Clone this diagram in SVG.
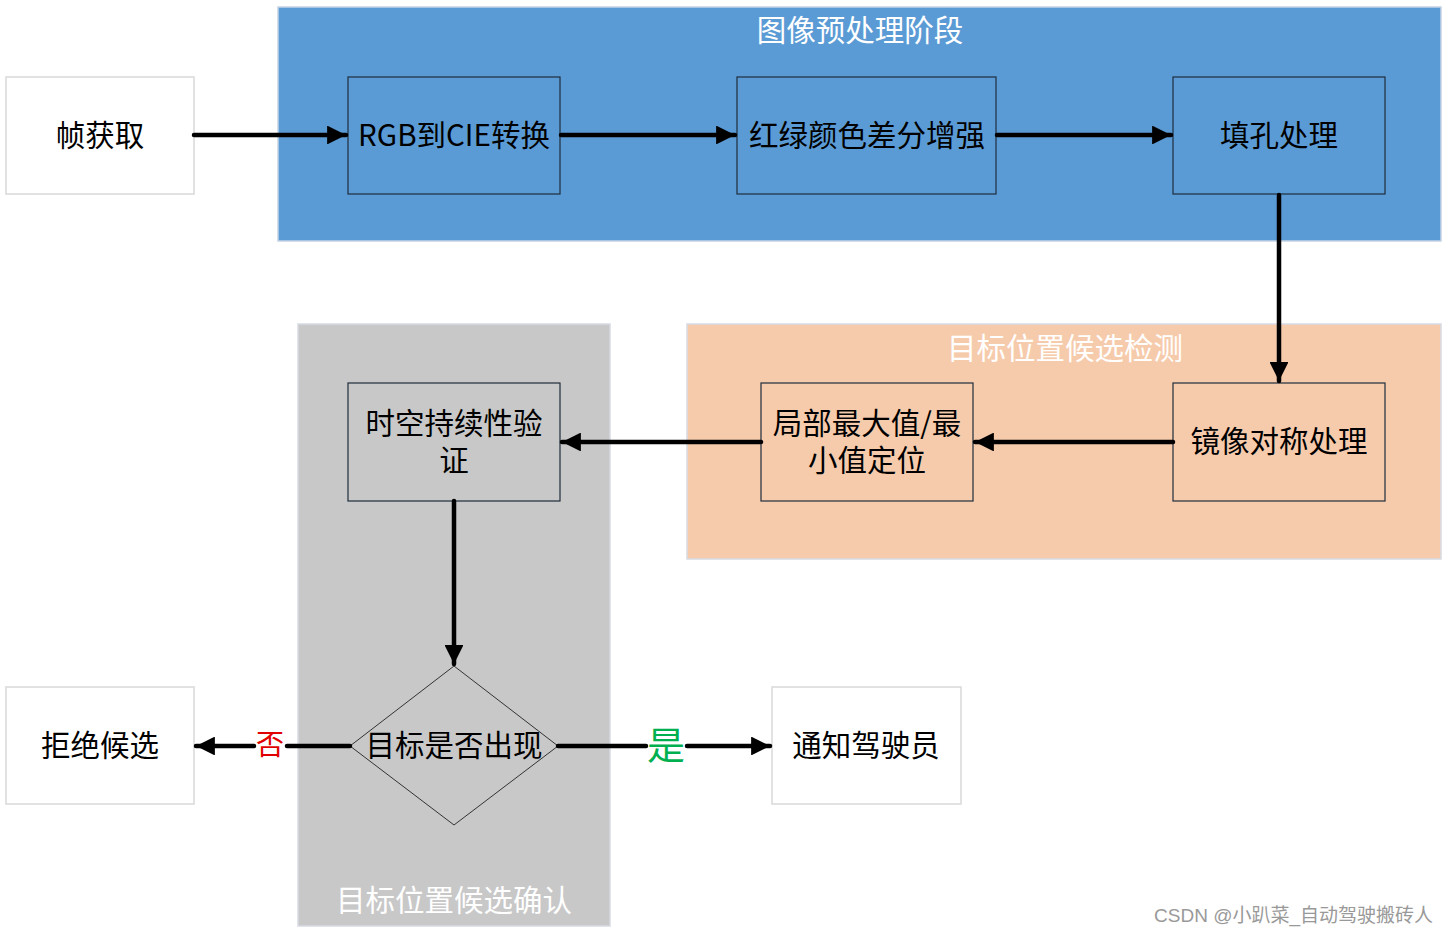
<svg xmlns="http://www.w3.org/2000/svg" width="1449" height="935" viewBox="0 0 1449 935">
<defs>
<marker id="arr" viewBox="0 0 10 10" refX="10" refY="5" markerWidth="6" markerHeight="4.2" markerUnits="strokeWidth" orient="auto">
<path d="M0,0 L10,5 L0,10 z" fill="#000"/>
</marker>
</defs>
<style>
.t{font-family:"Microsoft YaHei","Noto Sans CJK SC","Noto Sans",sans-serif;font-size:29.5px;fill:#000;text-anchor:middle;dominant-baseline:central}
.w{fill:#fff}
.node{stroke:#1f2d3d;stroke-width:1.2}
.plain{fill:#fff;stroke:#d9d9d9;stroke-width:1.5}
.c{stroke:#000;stroke-width:4.5;fill:none;stroke-linecap:round}
</style>
<rect width="1449" height="935" fill="#fff"/>
<g id="group-preprocess">
<rect x="278" y="7" width="1163" height="234" fill="#5B9BD5" stroke="#c5d3e3" stroke-width="1.5"/>
<text class="t w" x="860" y="28">图像预处理阶段</text>
</g>
<g id="group-detect">
<rect x="687" y="324" width="754" height="235" fill="#F6CBAC" stroke="#d6dbe3" stroke-width="1.5"/>
<text class="t w" x="1065" y="346">目标位置候选检测</text>
</g>
<g id="group-confirm">
<rect x="298" y="324" width="312" height="602" fill="#C8C8C8" stroke="#d6dbe3" stroke-width="1.5"/>
<text class="t w" x="454" y="898">目标位置候选确认</text>
</g>
<g id="n-frame"><rect class="plain" x="6" y="77" width="188" height="117"/><text class="t" x="100" y="133">帧获取</text></g>
<g id="n-rgb"><rect class="node" x="348" y="77" width="212" height="117" fill="#5B9BD5"/><text class="t" x="454" y="133">RGB到CIE转换</text></g>
<g id="n-rg"><rect class="node" x="737" y="77" width="259" height="117" fill="#5B9BD5"/><text class="t" x="867" y="133">红绿颜色差分增强</text></g>
<g id="n-fill"><rect class="node" x="1173" y="77" width="212" height="117" fill="#5B9BD5"/><text class="t" x="1279" y="133">填孔处理</text></g>
<g id="n-mirror"><rect class="node" x="1173" y="383" width="212" height="118" fill="#F6CBAC"/><text class="t" x="1279" y="439">镜像对称处理</text></g>
<g id="n-local"><rect class="node" x="761" y="383" width="212" height="118" fill="#F6CBAC"/><text class="t"><tspan x="867" y="421">局部最大值/最</tspan><tspan x="867" y="458">小值定位</tspan></text></g>
<g id="n-st"><rect class="node" x="348" y="383" width="212" height="118" fill="#C8C8C8"/><text class="t"><tspan x="454" y="421">时空持续性验</tspan><tspan x="454" y="458">证</tspan></text></g>
<g id="n-dec"><polygon points="454,666 558,746 454,825 350,746" fill="#C8C8C8" stroke="#333" stroke-width="1"/><text class="t" x="454" y="743">目标是否出现</text></g>
<g id="n-reject"><rect class="plain" x="6" y="687" width="188" height="117"/><text class="t" x="100" y="743">拒绝候选</text></g>
<g id="n-notify"><rect class="plain" x="772" y="687" width="189" height="117"/><text class="t" x="866" y="743">通知驾驶员</text></g>
<g id="connectors">
<line class="c" x1="194" y1="135" x2="346" y2="135" marker-end="url(#arr)"/>
<line class="c" x1="561" y1="135" x2="735" y2="135" marker-end="url(#arr)"/>
<line class="c" x1="997" y1="135" x2="1171" y2="135" marker-end="url(#arr)"/>
<line class="c" x1="1279" y1="195" x2="1279" y2="381" marker-end="url(#arr)"/>
<line class="c" x1="1173" y1="442" x2="975" y2="442" marker-end="url(#arr)"/>
<line class="c" x1="761" y1="442" x2="562" y2="442" marker-end="url(#arr)"/>
<line class="c" x1="454" y1="501" x2="454" y2="664" marker-end="url(#arr)"/>
<line class="c" x1="350" y1="746" x2="287" y2="746"/>
<line class="c" x1="254" y1="746" x2="196" y2="746" marker-end="url(#arr)"/>
<line class="c" x1="558" y1="746" x2="646" y2="746"/>
<line class="c" x1="687" y1="746" x2="770" y2="746" marker-end="url(#arr)"/>
<text class="t" x="270" y="743" style="fill:#E00000;font-size:28px">否</text>
<text class="t" x="666" y="742" style="fill:#00B050;font-size:38px">是</text>
</g>
<text x="1433" y="915" style="font-family:'Liberation Sans','Noto Sans CJK SC',sans-serif;font-size:19px;fill:#999;text-anchor:end;dominant-baseline:central">CSDN @小趴菜_自动驾驶搬砖人</text>
</svg>
